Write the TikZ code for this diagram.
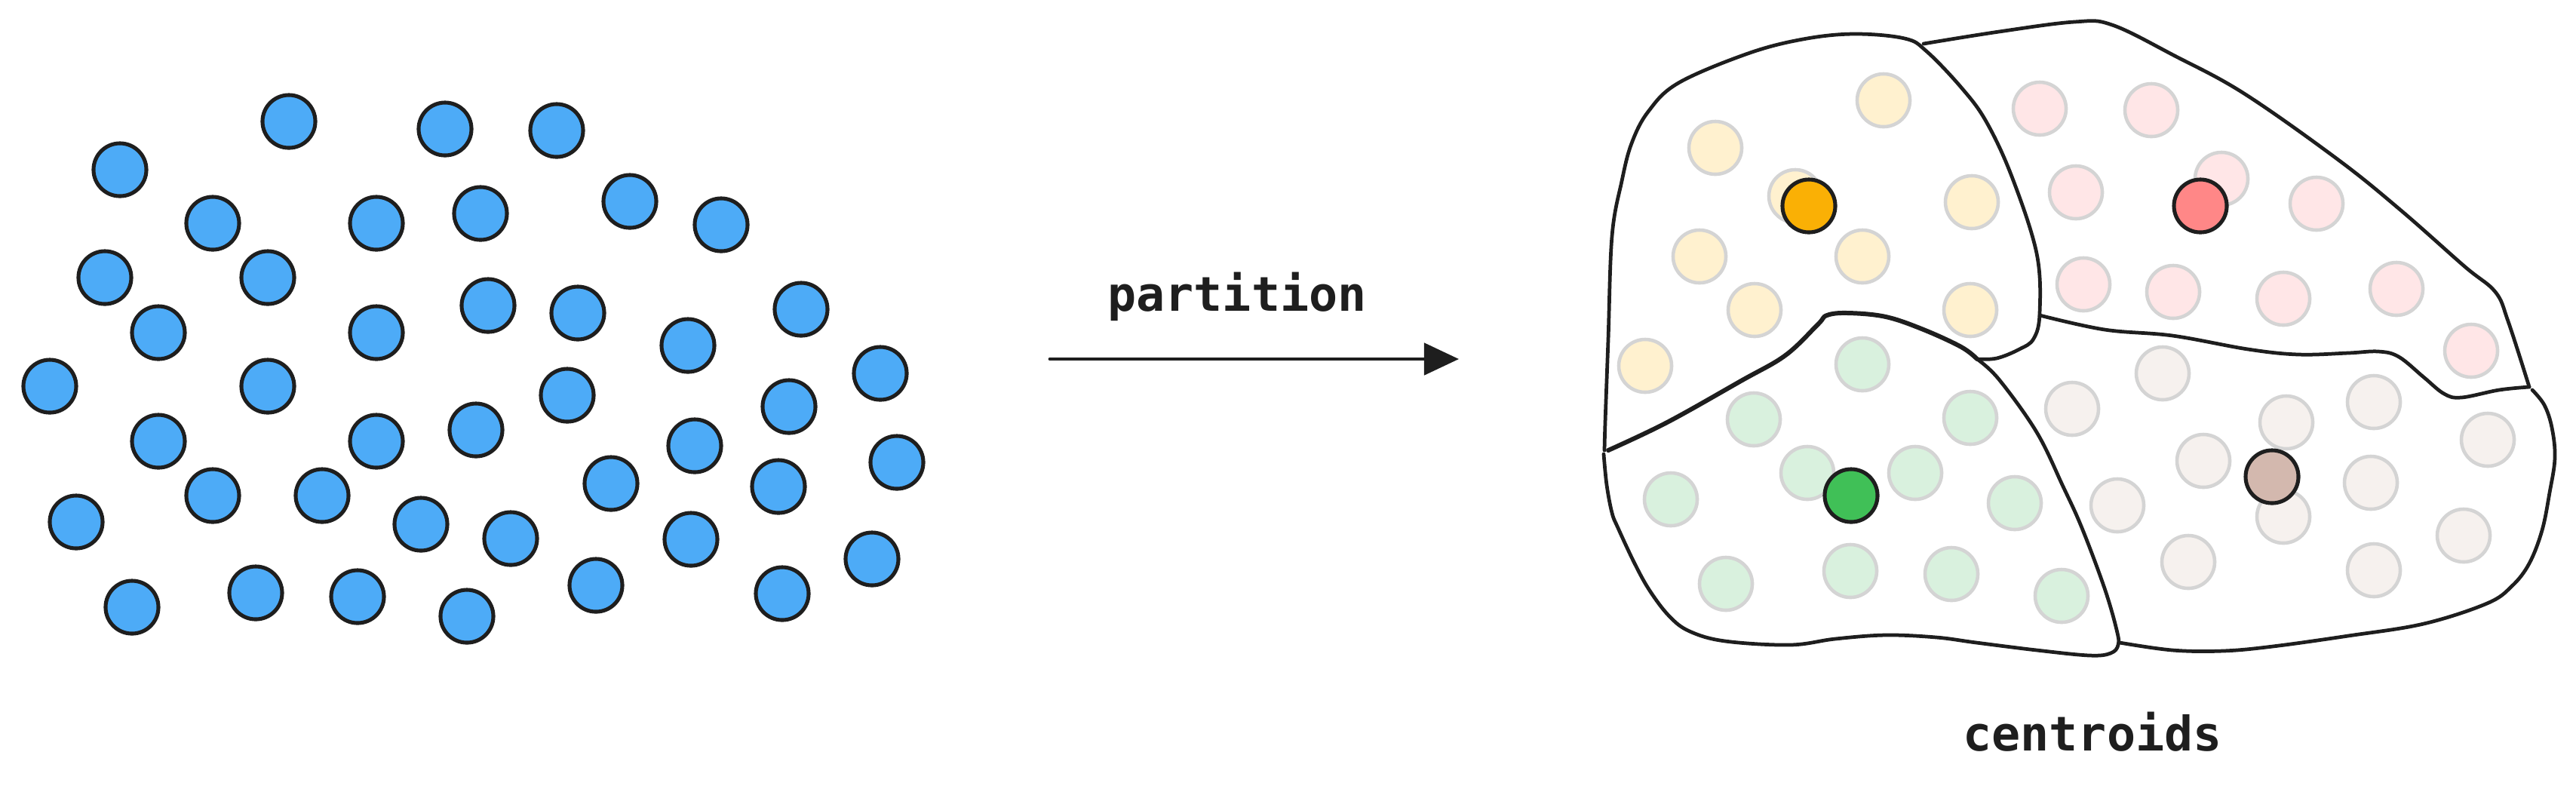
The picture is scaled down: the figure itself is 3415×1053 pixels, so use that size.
\documentclass[tikz,border=0pt]{standalone}
\usepackage{fontspec}
\setmonofont{DejaVu Sans Mono}
\usetikzlibrary{arrows.meta}

\definecolor{ink}{HTML}{1E1E1E}
\definecolor{dotblue}{HTML}{4DABF7}
\definecolor{cyellow}{HTML}{FAB005}
\definecolor{cred}{HTML}{FF8787}
\definecolor{cgreen}{HTML}{40C057}
\definecolor{cbeige}{HTML}{D3B8AE}
\definecolor{fyellow}{HTML}{FFF1CF}
\definecolor{fred}{HTML}{FFE6E7}
\definecolor{fgreen}{HTML}{D9F1DE}
\definecolor{fbeige}{HTML}{F6F1EE}

\tikzset{
  pt/.style={circle, draw=ink, line width=1.45pt, minimum size=0.7cm, inner sep=0pt},
  faded/.style={pt, draw=black!17, line width=1.3pt, fill=#1},
  centroid/.style={pt, fill=#1},
  region/.style={draw=ink, line width=1.35pt, line join=round, line cap=round},
  flow/.style={draw=ink, line width=1.4pt, line cap=round, -{Triangle[length=0.46cm, width=0.42cm]}},
  hand/.style={anchor=base, text=ink, font=\ttfamily\bfseries\fontsize{18}{20}\selectfont}
}

\begin{document}
\begin{tikzpicture}[x=0.01cm, y=-0.01cm]
    \useasboundingbox (0,0) rectangle (3415,1053);

    % Points before partitioning
    \foreach \x/\y [count=\i] in {383/161, 590/171, 738/173, 159/225, 282/296, 499/296,
        637/283, 835/267, 956/298, 139/368, 355/368, 210/441, 499/441, 647/405,
        766/415, 912/458, 1062/410, 66/512, 355/512, 752/524, 1167/495, 210/585,
        499/585, 631/570, 921/591, 1046/539, 1189/613, 282/657, 427/657, 558/695,
        677/714, 810/641, 1032/645, 101/692, 916/715, 1156/741, 175/805, 339/786,
        474/791, 619/817, 790/776, 1037/787}
        \node[pt, fill=dotblue] (pt-\i) at (\x,\y) {};

    % Partition arrow
    \coordinate (arrowtail) at (1392,476);
    \coordinate (arrowtip) at (1934,476);
    \draw[flow] (arrowtail) -- (arrowtip);
    \node[hand] (partlabel) at (1640,412) {partition};

    % Cell outlines
    \draw[region] plot[smooth, tension=0.6] coordinates {(2127,597) (2128,560) (2132,450)
        (2137,313) (2150,240) (2163,190) (2185,148) (2225,110) (2317,71) (2390,52)
        (2458,45) (2525,51) (2554,68) (2600,116) (2633,161) (2667,234) (2700,336)
        (2704,415) (2696,449) (2677,463) (2647,475) (2621,476)};
    \draw[region, line width=1.7pt] plot[smooth, tension=0.6] coordinates {(2132,597) (2210,560)
        (2308,505) (2367,471) (2410,430) (2422,418) (2450,415) (2500,420) (2550,437)
        (2600,460) (2621,476)};
    \draw[region] plot[smooth, tension=0.6] coordinates {(2621,476) (2650,503) (2700,573)
        (2735,645) (2760,700) (2790,780) (2806,835) (2808,855) (2798,866) (2770,869)
        (2700,862) (2620,852) (2567,845) (2500,842) (2433,847) (2373,855) (2287,850)
        (2240,837) (2213,817) (2187,783) (2167,747) (2145,700) (2137,680) (2130,643)
        (2126,602)};
    \draw[region] plot[smooth, tension=0.6] coordinates {(2550,58) (2650,42) (2750,29)
        (2800,33) (2883,74) (2975,124) (3100,212) (3183,279) (3267,353) (3308,387)
        (3325,426) (3353,513)};
    \draw[region] plot[smooth, tension=0.6] coordinates {(2704,418) (2790,437) (2880,445)
        (2980,463) (3047,470) (3113,468) (3153,466) (3180,473) (3213,500) (3240,522)
        (3263,527) (3313,517) (3353,513)};
    \draw[region] plot[smooth, tension=0.6] coordinates {(3357,517) (3373,537) (3383,567)
        (3387,607) (3380,653) (3370,703) (3353,747) (3330,777) (3297,800) (3213,827)
        (3113,843) (3013,857) (2947,863) (2880,862) (2810,852)};

    % Assigned points, faded
    \foreach \x/\y [count=\i] in {2497/133, 2274/196, 2380/260, 2614/268, 2253/340,
        2469/340, 2326/411, 2612/411, 2181/485}
        \node[faded=fyellow] (ya-\i) at (\x,\y) {};
    \foreach \x/\y [count=\i] in {2704/144, 2852/146, 2945/237, 2752/255, 3071/270,
        2762/377, 2881/387, 3027/396, 3177/383, 3276/465}
        \node[faded=fred] (rb-\i) at (\x,\y) {};
    \foreach \x/\y [count=\i] in {2469/483, 2325/556, 2612/554, 2396/627, 2539/627,
        2215/662, 2671/667, 2288/774, 2453/757, 2587/761, 2733/790}
        \node[faded=fgreen] (gc-\i) at (\x,\y) {};
    \foreach \x/\y [count=\i] in {2867/495, 2747/542, 3147/533, 3031/560, 3298/583,
        2921/611, 2807/670, 3143/640, 3027/685, 2901/745, 3147/756, 3266/710}
        \node[faded=fbeige] (bd-\i) at (\x,\y) {};

    % Centroids
    \node[centroid=cyellow] (cya) at (2398,273) {};
    \node[centroid=cred] (crb) at (2917,273) {};
    \node[centroid=cgreen] (cgc) at (2454,657) {};
    \node[centroid=cbeige] (cbd) at (3012,632) {};

    \node[hand] (centlabel) at (2774,995) {centroids};
\end{tikzpicture}
\end{document}
